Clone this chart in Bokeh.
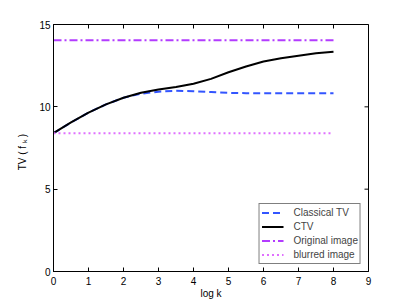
from bokeh.plotting import figure
from bokeh.models import Range1d, Legend, LegendItem, FixedTicker
from bokeh.embed import file_html
from bokeh.resources import INLINE

# data
x_vals = [0, 0.5, 1, 1.5, 2, 2.5, 3, 3.5, 4, 4.5, 5, 5.5, 6, 6.5, 7, 7.5, 8]
classical_tv = [8.4, 9.05, 9.65, 10.15, 10.55, 10.8, 10.92, 10.97, 10.95, 10.9, 10.85, 10.83, 10.82, 10.82, 10.82, 10.82, 10.82]
ctv = [8.4, 9.05, 9.65, 10.15, 10.55, 10.85, 11.05, 11.2, 11.4, 11.7, 12.1, 12.45, 12.75, 12.95, 13.1, 13.25, 13.35]
original_x = [0, 8]
original_y = [14.05, 14.05]
blurred_x = [0, 8]
blurred_y = [8.4, 8.4]
x_ticks = [0, 1, 2, 3, 4, 5, 6, 7, 8, 9]
y_ticks = [0, 5, 10, 15]
x_max = 9
y_max = 15

FONT = "Liberation Sans"

p = figure(width=407, height=306, output_backend="svg", toolbar_location=None,
           x_range=Range1d(0, x_max), y_range=Range1d(0, y_max),
           min_border_left=53, min_border_right=39, min_border_top=24, min_border_bottom=35)
p.background_fill_color = "white"
p.border_fill_color = "white"
p.grid.visible = False
p.outline_line_color = "black"
p.outline_line_width = 1

for ax in [p.xaxis[0], p.yaxis[0]]:
    ax.major_tick_in = 4
    ax.major_tick_out = 0
    ax.minor_tick_line_color = None
    ax.major_label_text_font = FONT
    ax.major_label_text_font_size = "10px"
    ax.major_label_text_color = "black"
    ax.axis_line_color = "black"
    ax.axis_label_text_font = FONT
    ax.axis_label_text_font_size = "10px"
    ax.axis_label_text_font_style = "normal"
    ax.axis_label_text_color = "black"
p.xaxis.ticker = FixedTicker(ticks=x_ticks)
p.yaxis.ticker = FixedTicker(ticks=y_ticks)
p.xaxis.major_label_standoff = 5
p.yaxis.major_label_standoff = 3
p.xaxis.axis_label = "log k"
p.xaxis.axis_label_standoff = 0
p.yaxis.axis_label = "TV  (  f \u2096  )"
p.yaxis.axis_label_standoff = 8

# box ticks on top and right edges (inward)
p.scatter(x_ticks, [y_max] * len(x_ticks), marker="dash", angle=1.5708, size=8,
          line_color="black", line_width=1)
p.scatter([x_max] * len(y_ticks), y_ticks, marker="dash", angle=0, size=8,
          line_color="black", line_width=1)

r1 = p.line(x_vals, classical_tv, line_color="#3355ff", line_width=2, line_dash="7 4")
r2 = p.line(x_vals, ctv, line_color="black", line_width=2)
r3 = p.line(original_x, original_y, line_color="#b33cff", line_width=2, line_dash="8 3 2 3")
r4 = p.line(blurred_x, blurred_y, line_color="#e070ff", line_width=2, line_dash="2 3")

legend = Legend(items=[
    LegendItem(label="Classical TV", renderers=[r1]),
    LegendItem(label="CTV", renderers=[r2]),
    LegendItem(label="Original image", renderers=[r3]),
    LegendItem(label="blurred image", renderers=[r4]),
], location="bottom_right")
legend.margin = 7
legend.padding = 2
legend.spacing = 1
legend.label_height = 13
legend.glyph_height = 13
legend.glyph_width = 22
legend.label_standoff = 10
legend.label_text_font = FONT
legend.label_text_font_size = "10px"
legend.border_line_color = "black"
legend.border_line_width = 1
legend.background_fill_alpha = 1
p.add_layout(legend, "center")

open("out.html", "w").write(file_html(p, INLINE))
